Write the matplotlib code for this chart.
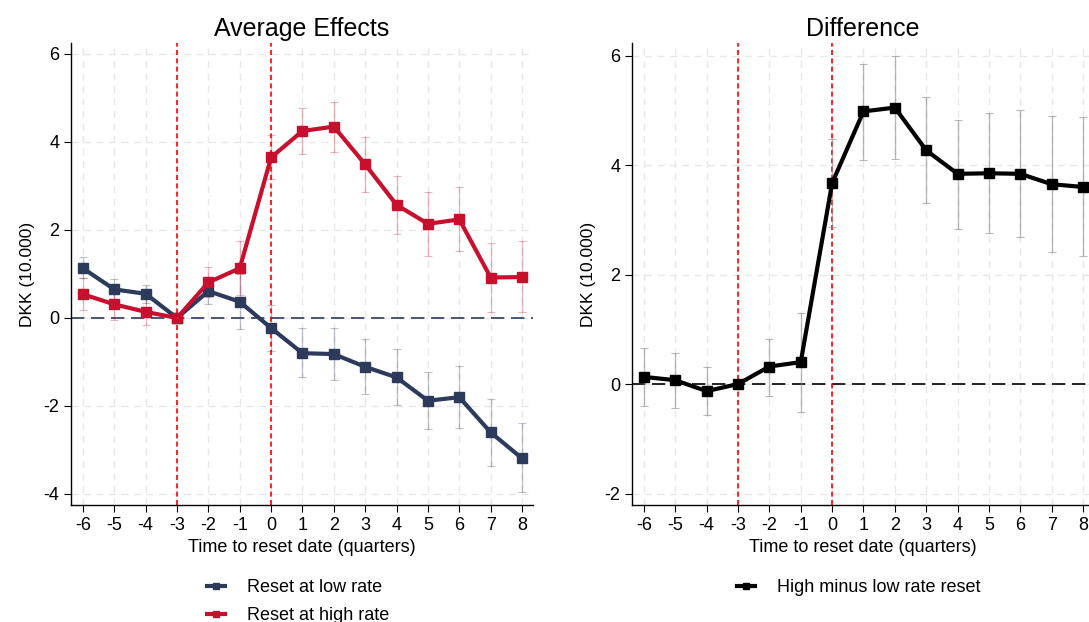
import matplotlib
matplotlib.use("Agg")
import matplotlib.pyplot as plt
import numpy as np

plt.rcParams['font.family'] = ['Liberation Sans', 'DejaVu Sans']

quarters = [-6, -5, -4, -3, -2, -1, 0, 1, 2, 3, 4, 5, 6, 7, 8]

low_rate = [1.13, 0.65, 0.55, 0.0, 0.61, 0.37, -0.23, -0.80, -0.82, -1.11, -1.35, -1.88, -1.80, -2.60, -3.19]
low_lo = [0.90, 0.42, 0.34, 0.0, 0.32, -0.26, -0.75, -1.35, -1.41, -1.73, -1.98, -2.52, -2.49, -3.36, -3.96]
low_hi = [1.38, 0.88, 0.74, 0.0, 0.90, 1.00, 0.30, -0.23, -0.22, -0.48, -0.71, -1.23, -1.10, -1.84, -2.39]

high_rate = [0.54, 0.31, 0.14, 0.0, 0.81, 1.13, 3.65, 4.25, 4.35, 3.49, 2.57, 2.14, 2.24, 0.92, 0.93]
high_lo = [0.18, -0.05, -0.17, 0.0, 0.48, 0.52, 3.17, 3.73, 3.77, 2.86, 1.92, 1.40, 1.52, 0.13, 0.14]
high_hi = [0.92, 0.67, 0.45, 0.0, 1.15, 1.75, 4.15, 4.78, 4.92, 4.11, 3.23, 2.86, 2.97, 1.70, 1.74]

diff = [0.13, 0.07, -0.13, 0.0, 0.32, 0.40, 3.67, 4.98, 5.05, 4.27, 3.84, 3.85, 3.84, 3.65, 3.60]
diff_lo = [-0.40, -0.43, -0.57, 0.0, -0.21, -0.52, 2.86, 4.10, 4.12, 3.30, 2.84, 2.76, 2.68, 2.41, 2.34]
diff_hi = [0.66, 0.56, 0.32, 0.0, 0.83, 1.30, 4.47, 5.85, 6.00, 5.24, 4.83, 4.95, 5.01, 4.89, 4.87]

event_lines = [-3, 0]

NAVY = '#2c3a5c'
RED = '#c8102e'

fig = plt.figure(figsize=(10.89, 6.22), dpi=100)
axL = fig.add_axes([71/1089, 1-505/622, 462/1089, 462/622])
axR = fig.add_axes([632/1089, 1-505/622, 462/1089, 462/622])

def style(ax, yticks, ylim, zero_color):
    ax.set_xlim(-6.38, 8.35)
    ax.set_ylim(*ylim)
    ax.set_xticks(quarters)
    ax.set_xticklabels([str(q) for q in quarters])
    ax.set_yticks(yticks)
    ax.set_yticklabels([str(t) for t in yticks])
    for s in ['top', 'right']:
        ax.spines[s].set_visible(False)
    for s in ['left', 'bottom']:
        ax.spines[s].set_linewidth(1.0)
        ax.spines[s].set_color('black')
    ax.tick_params(axis='both', labelsize=13, length=5, width=0.8, direction='out')
    for q in quarters:
        ax.axvline(q, color='#e8e8e8', lw=1.0, dashes=(5, 4), zorder=0)
    for t in yticks:
        ax.axhline(t, color='#e8e8e8', lw=1.0, dashes=(5, 4), zorder=0)
    ax.axhline(0, color=zero_color, lw=1.2, dashes=(8, 4), zorder=1)
    for v in event_lines:
        ax.axvline(v, color='#ff0000', lw=1.2, dashes=(3, 2), zorder=2)
    ax.set_xlabel('Time to reset date (quarters)', fontsize=13, labelpad=4)
    ax.set_ylabel('DKK (10.000)', fontsize=12.5, labelpad=6)

style(axL, [-4, -2, 0, 2, 4, 6], (-4.25, 6.25), NAVY)
style(axR, [-2, 0, 2, 4, 6], (-2.21, 6.23), 'black')

x = np.array(quarters)

def series(ax, y, lo, hi, color, ecolor, label):
    y = np.array(y); lo = np.array(lo); hi = np.array(hi)
    ax.errorbar(x, y, yerr=[y - lo, hi - y], fmt='none', ecolor=ecolor, elinewidth=1.0,
                capsize=3, capthick=0.8, zorder=3)
    h, = ax.plot(x, y, color=color, lw=3, marker='s', markersize=7, zorder=4, label=label,
                 solid_joinstyle='miter')
    return h

h1 = series(axL, low_rate, low_lo, low_hi, NAVY, (0.17, 0.23, 0.36, 0.3), 'Reset at low rate')
h2 = series(axL, high_rate, high_lo, high_hi, RED, (0.78, 0.06, 0.18, 0.3), 'Reset at high rate')
h3 = series(axR, diff, diff_lo, diff_hi, 'black', (0.55, 0.55, 0.55, 0.6), 'High minus low rate reset')

axL.set_title('Average Effects', fontsize=18, pad=5)
axR.set_title('Difference', fontsize=18, pad=5)

fig.legend(handles=[h1, h2], loc='upper left', bbox_to_anchor=(200/1089, 1-572/622),
           frameon=False, fontsize=13, handlelength=1.0, handletextpad=1.2,
           labelspacing=0.6, markerscale=0.6, borderaxespad=0)
fig.legend(handles=[h3], loc='upper left', bbox_to_anchor=(730/1089, 1-572/622),
           frameon=False, fontsize=13, handlelength=1.0, handletextpad=1.2,
           markerscale=0.6, borderaxespad=0)

fig.savefig('out.png', dpi=100)
